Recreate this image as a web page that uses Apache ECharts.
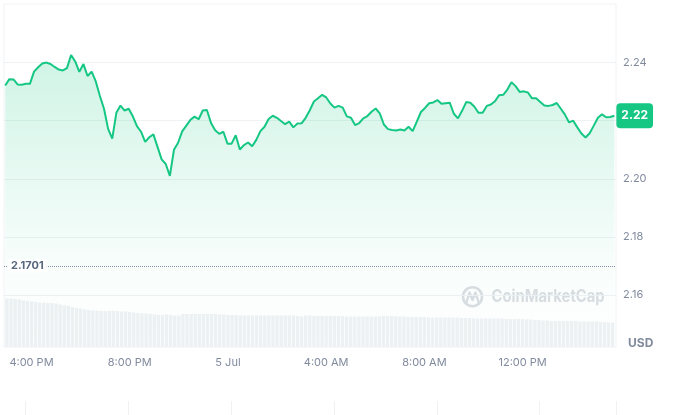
<!DOCTYPE html>
<html><head><meta charset="utf-8">
<script src="https://cdn.jsdelivr.net/npm/echarts@6/dist/echarts.min.js"></script>
<style>html,body{margin:0;padding:0;background:#fff}#c{width:680px;height:415px}</style>
</head><body><div id="c"></div>
<script>
// ---- data ----
const firstPointTime = [2025, 6, 4, 15, 0];   // 4 Jul, 3:00 PM (local)
const stepMinutes = 10;
const axisStartTime = [2025, 6, 4, 14, 57];
const axisEndTime = [2025, 6, 5, 15, 44];
const monthNames = ['Jan','Feb','Mar','Apr','May','Jun','Jul','Aug','Sep','Oct','Nov','Dec'];
const referencePrice = 2.1701;
const priceAxisMin = 2.14, priceAxisMax = 2.26, priceAxisStep = 0.02;

const prices = [
 2.2321,2.2343,2.2342,2.2325,2.2324,2.2327,2.2327,2.2369,2.2384,2.2397,
 2.2400,2.2395,2.2385,2.2376,2.2373,2.2381,2.2426,2.2404,2.2368,2.2395,
 2.2354,2.2369,2.2335,2.2285,2.2241,2.2172,2.2138,2.2227,2.2252,2.2235,
 2.2241,2.2215,2.2181,2.2162,2.2127,2.2143,2.2153,2.2110,2.2067,2.2051,
 2.2010,2.2100,2.2124,2.2163,2.2183,2.2203,2.2214,2.2205,2.2235,2.2237,
 2.2192,2.2167,2.2155,2.2162,2.2121,2.2121,2.2150,2.2101,2.2116,2.2125,
 2.2112,2.2134,2.2164,2.2179,2.2206,2.2217,2.2210,2.2199,2.2188,2.2197,
 2.2177,2.2190,2.2191,2.2210,2.2236,2.2266,2.2277,2.2289,2.2280,2.2259,
 2.2245,2.2251,2.2245,2.2215,2.2210,2.2185,2.2192,2.2208,2.2216,2.2231,
 2.2242,2.2225,2.2187,2.2171,2.2168,2.2166,2.2170,2.2166,2.2179,2.2164,
 2.2197,2.2230,2.2244,2.2260,2.2263,2.2271,2.2258,2.2260,2.2262,2.2224,
 2.2208,2.2234,2.2264,2.2262,2.2248,2.2227,2.2227,2.2251,2.2256,2.2267,
 2.2288,2.2289,2.2307,2.2332,2.2319,2.2299,2.2301,2.2297,2.2277,2.2277,
 2.2264,2.2252,2.2251,2.2254,2.2261,2.2241,2.2221,2.2194,2.2200,2.2177,
 2.2156,2.2142,2.2157,2.2183,2.2210,2.2222,2.2212,2.2213,2.2217
];

const volumes = [
 97,97,96,95,93,92,91,90,89,89,88,88,87,85,83,82,80,78,77,75,
 74,73,73,72,72,72,72,72,71,71,70,69,68,67,67,66,65,64,64,65,
 64,63,63,66,66,66,66,66,66,66,66,66,65,65,64,64,64,63,63,63,
 63,63,63,63,63,63,63,63,63,63,63,62,61,63,63,62,62,62,62,62,
 62,62,62,61,61,61,61,61,61,61,61,61,62,62,62,61,61,61,60,60,
 60,60,60,59,59,59,59,59,59,59,59,58,58,58,57,57,57,57,57,57,
 57,57,56,56,56,56,56,55,55,54,54,53,53,52,52,52,52,52,52,52,
 51,51,51,51,51,50,50,49,49
];
const volumeAxisMax = 686;

// navigator strip (only its top edge is visible)
const navigatorDivisions = 5.743;

// ---- build ----
const toMs = a => new Date(a[0], a[1], a[2], a[3], a[4]).getTime();
const t0 = toMs(firstPointTime);
const stepMs = stepMinutes * 60000;
const priceData = prices.map((p, i) => [t0 + i * stepMs, p]);
const volumeData = volumes.map((v, i) => [t0 + i * stepMs, v]);

const LABEL = '#808a9d';
const GRIDC = '#eff2f5';
const GREEN = '#16c784';
const FONT = 'Inter, "Noto Sans", sans-serif';

function timeLabel(v) {
  const d = new Date(v);
  const h = d.getHours();
  if (h === 0 && d.getMinutes() === 0) return d.getDate() + ' ' + monthNames[d.getMonth()];
  const h12 = h % 12 === 0 ? 12 : h % 12;
  return h12 + ':' + String(d.getMinutes()).padStart(2, '0') + ' ' + (h < 12 ? 'AM' : 'PM');
}

const chart = echarts.init(document.getElementById('c'), null, {renderer: 'canvas'});
chart.setOption({
  animation: false,
  backgroundColor: '#fff',
  textStyle: {fontFamily: FONT},
  grid: [
    {left: 4, right: 64, top: 4, bottom: 68, show: true, borderColor: GRIDC, borderWidth: 1},
    {left: 4, right: 64, top: 4.5, bottom: 61.9},
    {left: 25.6, right: 64, top: 401, bottom: -40},
    {left: 4, right: 64, top: 401, bottom: -40}
  ],
  xAxis: [
    {type: 'time', gridIndex: 0, min: toMs(axisStartTime), max: toMs(axisEndTime),
     minInterval: 4 * 3600000, maxInterval: 4 * 3600000,
     axisLine: {show: false}, axisTick: {show: false}, splitLine: {show: false},
     axisLabel: {formatter: timeLabel, color: LABEL, fontSize: 11, margin: 10,
                 showMinLabel: false, showMaxLabel: false, fontFamily: FONT}},
    {type: 'time', gridIndex: 1, min: toMs(axisStartTime), max: toMs(axisEndTime), show: false},
    {type: 'value', gridIndex: 2, min: 0, max: navigatorDivisions, interval: 1, position: 'top',
     axisLine: {show: false}, axisTick: {show: false}, axisLabel: {show: false},
     splitLine: {show: true, lineStyle: {color: GRIDC, width: 1}}},
    {type: 'value', gridIndex: 3, min: 0, max: 1, position: 'top',
     axisLine: {show: true, lineStyle: {color: GRIDC, width: 1}}, axisTick: {show: false},
     axisLabel: {show: false}, splitLine: {show: false}}
  ],
  yAxis: [
    {type: 'value', gridIndex: 0, min: 0, max: volumeAxisMax, show: false},
    {type: 'value', gridIndex: 1, position: 'right', min: priceAxisMin, max: priceAxisMax, interval: priceAxisStep,
     axisLine: {show: false}, axisTick: {show: false},
     axisLabel: {color: LABEL, fontSize: 11, margin: 7, showMinLabel: false, showMaxLabel: false,
                 formatter: v => v.toFixed(2), fontFamily: FONT},
     splitLine: {show: true, showMinLine: false, showMaxLine: false, lineStyle: {color: GRIDC, width: 1}}},
    {type: 'value', gridIndex: 2, min: 0, max: 1, show: false},
    {type: 'value', gridIndex: 3, min: 0, max: 1, show: false}
  ],
  series: [
    {type: 'bar', xAxisIndex: 0, yAxisIndex: 0, data: volumeData, barWidth: '82%',
     itemStyle: {color: '#eef1f4'}, silent: true, z: 1},
    {type: 'line', xAxisIndex: 1, yAxisIndex: 1, data: priceData, showSymbol: false, z: 3,
     lineStyle: {color: GREEN, width: 2}, itemStyle: {color: GREEN},
     areaStyle: {color: new echarts.graphic.LinearGradient(0, 0, 0, 1, [
       {offset: 0, color: 'rgba(22,199,132,0.29)'},
       {offset: 0.72, color: 'rgba(22,199,132,0.04)'},
       {offset: 1, color: 'rgba(22,199,132,0)'}])},
     endLabel: {show: true, distance: 2, formatter: p => p.value[1].toFixed(2),
       backgroundColor: GREEN, color: '#fff', fontWeight: 'bold', fontSize: 12,
       padding: [7, 5, 6, 5], borderRadius: 4, fontFamily: FONT},
     markLine: {silent: true, symbol: 'none', animation: false,
       lineStyle: {type: 'dotted', color: '#858ca2', width: 1},
       label: {position: 'insideStart', distance: 4, formatter: () => referencePrice.toFixed(4),
         color: '#58667e', fontSize: 11, fontWeight: 'bold', backgroundColor: '#fff',
         padding: [1, 3], fontFamily: FONT},
       data: [{yAxis: referencePrice}]}},
    {type: 'line', xAxisIndex: 2, yAxisIndex: 2, data: []},
    {type: 'line', xAxisIndex: 3, yAxisIndex: 3, data: []}
  ],
  graphic: [
    {type: 'text', left: 628, top: 337, silent: true,
     style: {text: 'USD', fill: LABEL, font: 'bold 12px ' + FONT}},
    {type: 'circle', shape: {cx: 472.5, cy: 296.7, r: 9.5}, silent: true, z: 0,
     style: {fill: 'none', stroke: '#dadde2', lineWidth: 2.6}},
    {type: 'polyline', shape: {points: [[466.5, 302], [469.5, 292.5], [472.5, 300], [475.5, 292.5], [478.5, 302]]},
     silent: true, style: {fill: 'none', stroke: '#dadde2', lineWidth: 2.4, lineJoin: 'round', lineCap: 'round'}},
    {type: 'text', x: 491.5, y: 288, scaleX: 0.87, silent: true,
     style: {text: 'CoinMarketCap', fill: '#dadde2', font: 'bold 17px ' + FONT}}
  ]
});
</script>
</body></html>
